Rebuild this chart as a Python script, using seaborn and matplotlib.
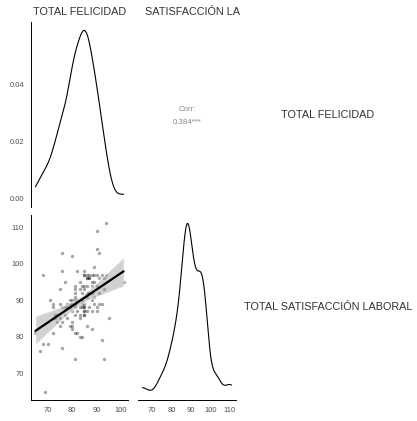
import numpy as np
import pandas as pd
import matplotlib
matplotlib.use("Agg")
import matplotlib.pyplot as plt
import seaborn as sns

# valores (felicidad, satisfaccion)
felicidad = [65, 67, 68, 68, 70, 69, 76, 76, 76, 80, 81, 82, 84, 88, 89, 90, 90, 91, 92, 93,
             94, 95, 101, 86, 80, 79, 75,
             85, 85, 86, 89, 90, 92, 94, 88, 87,
             86, 87, 91, 93, 87, 86,
             77, 83, 88, 89,
             81, 84, 85, 86, 88, 90,
             75, 81, 83, 85, 93,
             81, 84, 86, 87, 88, 91,
             81, 86, 89,
             71, 79, 80, 81, 82, 84, 88,
             72, 75, 78, 79, 81, 84, 85, 89, 91, 92, 80,
             72, 77, 79, 84, 83, 85, 87, 90, 85, 81,
             76, 78, 80, 82, 85, 85, 86, 88, 90,
             73, 74, 77, 81, 83, 85, 85,
             73, 75, 78, 83,
             74, 76, 80,
             80,
             72, 81, 82, 83, 85]
satisfaccion = [81, 76, 97, 78, 78, 65, 103, 98, 77, 102, 74, 98, 80, 82, 99, 109, 104, 103, 79, 74,
                111, 85, 95, 83, 82, 83, 83,
                97, 97, 97, 97, 97, 97, 97, 97, 97,
                96, 96, 96, 96, 96, 96,
                95, 95, 95, 95,
                94, 94, 94, 94, 94, 94,
                93, 93, 93, 93, 93,
                92, 92, 92, 92, 92, 92,
                91, 91, 91,
                90, 90, 90, 90, 90, 90, 90,
                89, 89, 89, 89, 89, 89, 89, 89, 89, 89, 89,
                88, 88, 88, 88, 88, 88, 88, 88, 88, 88,
                88, 88, 87, 87, 87, 87, 87, 87, 87,
                86, 86, 86, 86, 86, 86, 86,
                85, 85, 85, 85,
                84, 84, 84,
                83,
                81, 81, 81, 80, 98]

etiqueta_x = "TOTAL FELICIDAD"
etiqueta_y = "TOTAL SATISFACCIÓN LABORAL"
etiqueta_y_corta = "SATISFACCIÓN LA"  # parte visible de la tira superior
corr_valor = "0.384***"
ticks_fel = [70, 80, 90, 100]
ticks_sat = [70, 80, 90, 100, 110]
ticks_dens = [0.00, 0.02, 0.04]

df = pd.DataFrame({etiqueta_x: felicidad, etiqueta_y: satisfaccion})

sns.set_theme(style="white")
plt.rcParams["font.family"] = ["Liberation Sans", "DejaVu Sans"]

W, H = 417, 421
fig = plt.figure(figsize=(W / 100, H / 100), dpi=100)


def caja(x0, y0, x1, y1):
    # pixeles -> fraccion de figura
    return [x0 / W, 1 - y1 / H, (x1 - x0) / W, (y1 - y0) / H]


def nrd0(v):
    # ancho de banda estilo R (bw.nrd0) como factor de scipy
    v = np.asarray(v, float)
    sd = v.std(ddof=1)
    iqr = np.subtract(*np.percentile(v, [75, 25]))
    return 0.9 * min(sd, iqr / 1.34) * len(v) ** -0.2 / sd


def expandir(lo, hi):
    d = hi - lo
    return lo - 0.05 * d, hi + 0.05 * d


def estilo(ax, izq=True, abajo=True):
    for s in ["top", "right"]:
        ax.spines[s].set_visible(False)
    ax.spines["left"].set_visible(izq)
    ax.spines["bottom"].set_visible(abajo)
    for s in ["left", "bottom"]:
        ax.spines[s].set_color("black")
        ax.spines[s].set_linewidth(0.7)
    ax.tick_params(axis="both", length=2.5, width=0.6, color="#333333", pad=2.5,
                   labelsize=5.4, labelcolor="#4d4d4d")
    if not izq:
        ax.set_yticks([])
    if not abajo:
        ax.set_xticks([])
    ax.set_xlabel("")
    ax.set_ylabel("")


xlim = expandir(min(felicidad), max(felicidad))
ylim = expandir(min(satisfaccion), max(satisfaccion))

# densidad felicidad
ax1 = fig.add_axes(caja(31, 22, 128, 207))
sns.kdeplot(data=df, x=etiqueta_x, bw_method=nrd0(felicidad), cut=0, color="black",
            linewidth=0.8, ax=ax1)
m = ax1.lines[0].get_ydata().max()
ax1.set_ylim(-0.05 * m, 1.05 * m)
ax1.set_xlim(xlim)
ax1.set_yticks(ticks_dens)
ax1.set_yticklabels([f"{t:.2f}" for t in ticks_dens])
estilo(ax1, izq=True, abajo=False)

# correlacion
ax2 = fig.add_axes(caja(138, 22, 236, 207))
ax2.axis("off")
ax2.text(0.5, 0.5 + 5 / 185, "Corr:", ha="center", va="center", fontsize=5.7,
         color="#8a8a8a", transform=ax2.transAxes)
ax2.text(0.5, 0.5 - 8.5 / 185, corr_valor, ha="center", va="center", fontsize=5.7,
         color="#8a8a8a", transform=ax2.transAxes)

# dispersion + recta
ax3 = fig.add_axes(caja(31, 215, 128, 400))
sns.regplot(data=df, x=etiqueta_x, y=etiqueta_y, ax=ax3, seed=1, truncate=True,
            scatter_kws=dict(s=6, color="black", alpha=0.35, linewidths=0),
            line_kws=dict(color="black", linewidth=1.6))
for c in ax3.collections[1:]:
    c.set_facecolor("#999999")
    c.set_alpha(0.45)
ax3.set_xlim(xlim)
ax3.set_ylim(ylim)
ax3.set_xticks(ticks_fel)
ax3.set_yticks(ticks_sat)
estilo(ax3)

# densidad satisfaccion
ax4 = fig.add_axes(caja(138, 215, 236, 400))
sns.kdeplot(data=df, x=etiqueta_y, bw_method=nrd0(satisfaccion), cut=0, color="black",
            linewidth=0.8, ax=ax4)
m = ax4.lines[0].get_ydata().max()
ax4.set_ylim(-0.05 * m, 1.05 * m)
ax4.set_xlim(ylim)
ax4.set_xticks(ticks_sat)
estilo(ax4, izq=False, abajo=True)

# tiras superiores
fig.text(79.5 / W, 1 - 12 / H, etiqueta_x, ha="center", va="center", fontsize=7.8,
         color="#333333")
fig.text(145 / W, 1 - 12 / H, etiqueta_y_corta, ha="left", va="center", fontsize=7.8,
         color="#333333")

# tiras derechas
fig.text(328 / W, 1 - 115 / H, etiqueta_x, ha="center", va="center", fontsize=7.8,
         color="#333333")
fig.text(328 / W, 1 - 307 / H, etiqueta_y, ha="center", va="center", fontsize=7.8,
         color="#333333")

fig.savefig("out.png", dpi=100, facecolor="white")
